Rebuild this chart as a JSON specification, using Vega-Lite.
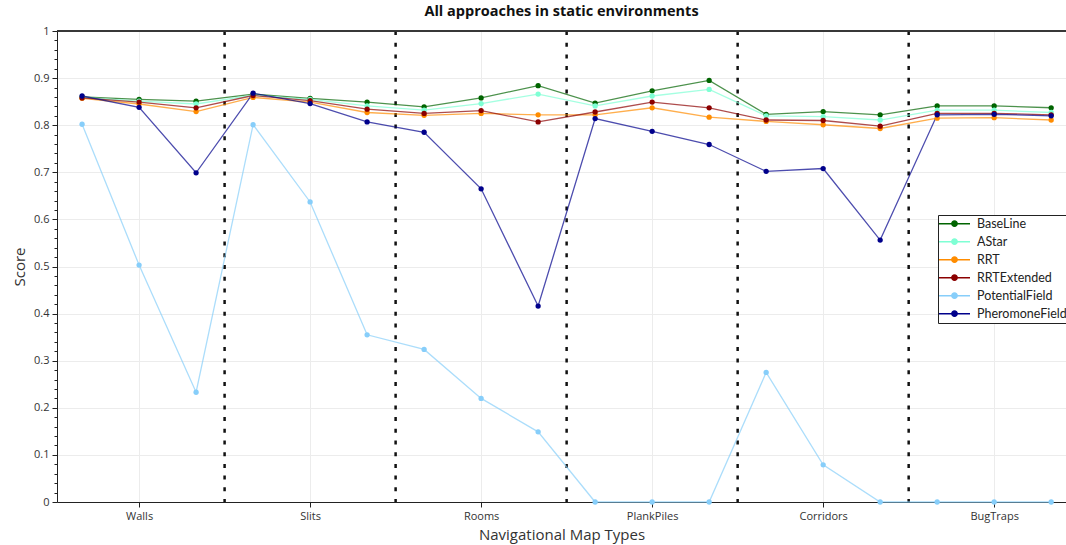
{
  "$schema": "https://vega.github.io/schema/vega-lite/v6.json",
  "width": 1009,
  "height": 471,
  "autosize": {"type": "none"},
  "padding": {"left": 57, "top": 31, "right": 0, "bottom": 43},
  "background": "white",
  "title": {"text": "All approaches in static environments", "fontSize": 14.5, "fontWeight": "bold", "font": "Open Sans", "color": "#111", "offset": 6, "anchor": "middle"},
  "config": {
    "view": {"stroke": null},
    "font": "Open Sans",
    "axis": {"labelFont": "Open Sans", "titleFont": "Open Sans", "labelColor": "#333", "titleColor": "#333", "titleFontWeight": "normal", "gridColor": "#ececec", "domainColor": "#222", "tickColor": "#222"}
  },
  "resolve": {"axis": {"y": "independent"}},
  "datasets": {
    "scores": [
      {"i": 0, "BaseLine": 0.860, "AStar": 0.859, "RRT": 0.857, "RRTExtended": 0.858, "PotentialField": 0.802, "PheromoneField": 0.862},
      {"i": 1, "BaseLine": 0.855, "AStar": 0.851, "RRT": 0.845, "RRTExtended": 0.849, "PotentialField": 0.503, "PheromoneField": 0.838},
      {"i": 2, "BaseLine": 0.851, "AStar": 0.845, "RRT": 0.829, "RRTExtended": 0.837, "PotentialField": 0.233, "PheromoneField": 0.699},
      {"i": 3, "BaseLine": 0.866, "AStar": 0.864, "RRT": 0.859, "RRTExtended": 0.863, "PotentialField": 0.801, "PheromoneField": 0.868},
      {"i": 4, "BaseLine": 0.857, "AStar": 0.855, "RRT": 0.849, "RRTExtended": 0.852, "PotentialField": 0.637, "PheromoneField": 0.846},
      {"i": 5, "BaseLine": 0.849, "AStar": 0.841, "RRT": 0.827, "RRTExtended": 0.834, "PotentialField": 0.355, "PheromoneField": 0.807},
      {"i": 6, "BaseLine": 0.839, "AStar": 0.832, "RRT": 0.821, "RRTExtended": 0.825, "PotentialField": 0.324, "PheromoneField": 0.785},
      {"i": 7, "BaseLine": 0.858, "AStar": 0.846, "RRT": 0.825, "RRTExtended": 0.831, "PotentialField": 0.220, "PheromoneField": 0.665},
      {"i": 8, "BaseLine": 0.884, "AStar": 0.866, "RRT": 0.822, "RRTExtended": 0.807, "PotentialField": 0.149, "PheromoneField": 0.416},
      {"i": 9, "BaseLine": 0.847, "AStar": 0.841, "RRT": 0.822, "RRTExtended": 0.828, "PotentialField": 0.0, "PheromoneField": 0.814},
      {"i": 10, "BaseLine": 0.873, "AStar": 0.862, "RRT": 0.837, "RRTExtended": 0.849, "PotentialField": 0.0, "PheromoneField": 0.787},
      {"i": 11, "BaseLine": 0.895, "AStar": 0.876, "RRT": 0.817, "RRTExtended": 0.837, "PotentialField": 0.0, "PheromoneField": 0.759},
      {"i": 12, "BaseLine": 0.823, "AStar": 0.820, "RRT": 0.808, "RRTExtended": 0.811, "PotentialField": 0.275, "PheromoneField": 0.702},
      {"i": 13, "BaseLine": 0.829, "AStar": 0.818, "RRT": 0.801, "RRTExtended": 0.810, "PotentialField": 0.079, "PheromoneField": 0.708},
      {"i": 14, "BaseLine": 0.822, "AStar": 0.811, "RRT": 0.793, "RRTExtended": 0.798, "PotentialField": 0.0, "PheromoneField": 0.556},
      {"i": 15, "BaseLine": 0.841, "AStar": 0.832, "RRT": 0.815, "RRTExtended": 0.825, "PotentialField": 0.0, "PheromoneField": 0.822},
      {"i": 16, "BaseLine": 0.841, "AStar": 0.832, "RRT": 0.816, "RRTExtended": 0.825, "PotentialField": 0.0, "PheromoneField": 0.823},
      {"i": 17, "BaseLine": 0.837, "AStar": 0.827, "RRT": 0.811, "RRTExtended": 0.822, "PotentialField": 0.0, "PheromoneField": 0.820}
    ],
    "dividers": [{"x": 2.5}, {"x": 5.5}, {"x": 8.5}, {"x": 11.5}, {"x": 14.5}]
  },
  "layer": [
    {
      "data": {"name": "dividers"},
      "mark": {"type": "rule", "color": "#111", "strokeWidth": 2.5, "strokeDash": [4, 7.7]},
      "encoding": {
        "x": {"field": "x", "type": "quantitative", "scale": {"domain": [-0.44, 17.26], "nice": false, "zero": false}}
      }
    },
    {
      "data": {"name": "dividers"},
      "mark": {"type": "rule", "color": "#333", "strokeWidth": 1},
      "encoding": {"y": {"datum": 1, "type": "quantitative", "scale": {"domain": [0, 1], "nice": false},
        "axis": {"orient": "left", "values": [0.02, 0.04, 0.06, 0.08, 0.12, 0.14, 0.16, 0.18, 0.22, 0.24, 0.26, 0.28, 0.32, 0.34, 0.36, 0.38, 0.42, 0.44, 0.46, 0.48, 0.52, 0.54, 0.56, 0.58, 0.62, 0.64, 0.66, 0.68, 0.72, 0.74, 0.76, 0.78, 0.82, 0.84, 0.86, 0.88, 0.92, 0.94, 0.96, 0.98], "labels": false, "domain": false, "grid": false, "title": null, "tickSize": 3, "offset": 0}}}
    },
    {
      "data": {"name": "scores"},
      "transform": [{"fold": ["BaseLine", "AStar", "RRT", "RRTExtended", "PotentialField", "PheromoneField"], "as": ["method", "score"]}],
      "encoding": {
        "x": {"field": "i", "type": "quantitative",
          "scale": {"domain": [-0.44, 17.26], "nice": false, "zero": false},
          "axis": {"values": [1, 4, 7, 10, 13, 16], "labelExpr": "['Walls','Slits','Rooms','PlankPiles','Corridors','BugTraps'][(datum.value-1)/3]", "title": "Navigational Map Types", "titleFontSize": 15, "labelFontSize": 11, "tickSize": 5, "labelPadding": 3, "titlePadding": 6, "grid": true}},
        "y": {"field": "score", "type": "quantitative",
          "scale": {"domain": [0, 1], "nice": false},
          "axis": {"orient": "left", "values": [0, 0.1, 0.2, 0.3, 0.4, 0.5, 0.6, 0.7, 0.8, 0.9, 1], "format": ".1~f", "title": "Score", "titleFontSize": 15, "labelFontSize": 11, "tickSize": 5, "labelPadding": 3, "titlePadding": 6, "grid": true}},
        "color": {"field": "method", "type": "nominal",
          "scale": {"domain": ["BaseLine", "AStar", "RRT", "RRTExtended", "PotentialField", "PheromoneField"], "range": ["#006400", "#7fffd4", "#ff8c00", "#8b0000", "#87cefa", "#00008b"]},
          "legend": {"title": null, "orient": "none", "legendX": 881, "legendY": 184, "strokeColor": "#222", "fillColor": "white", "padding": 0, "labelFontSize": 12.5, "labelFont": "Lato", "labelColor": "#222", "symbolType": "M-1,0H1M-0.17,0a0.17,0.17 0 1,0 0.34,0a0.17,0.17 0 1,0 -0.34,0", "symbolSize": 961, "symbolStrokeWidth": 1.5, "labelOffset": 6, "rowPadding": 0, "clipHeight": 17.4}}
      },
      "layer": [
        {"mark": {"type": "line", "strokeWidth": 1.3, "strokeOpacity": 0.7}},
        {"mark": {"type": "point", "filled": true, "size": 28, "opacity": 1}}
      ]
    }
  ]
}
